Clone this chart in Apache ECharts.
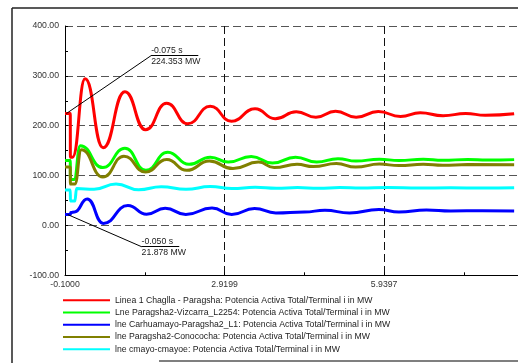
<!DOCTYPE html>
<html>
<head>
<meta charset="utf-8">
<script src="https://cdn.jsdelivr.net/npm/echarts@6/dist/echarts.min.js"></script>
<style>
html,body{margin:0;padding:0;overflow:hidden;background:#fff;width:518px;height:363px;}
#chart{width:560px;height:363px;}
</style>
</head>
<body>
<div id="chart"></div>
<script>
// ---- data (time in s, values in MW) ----
const seriesNames = [
  "Linea 1 Chaglla - Paragsha: Potencia Activa Total/Terminal i in MW",
  "Lne Paragsha2-Vizcarra_L2254: Potencia Activa Total/Terminal i in MW",
  "lne Carhuamayo-Paragsha2_L1: Potencia Activa Total/Terminal i in MW",
  "lne Paragsha2-Conococha: Potencia Activa Total/Terminal i in MW",
  "lne cmayo-cmayoe: Potencia Activa Total/Terminal i in MW"
];
const redT = [-0.1, 0.0, 0.002, 0.043, 0.281, 0.621, 1.034, 1.424, 1.823, 2.223, 2.650, 3.050, 3.496, 3.877, 4.277, 4.648, 5.020, 5.410, 5.828, 6.250, 6.622, 7.055, 7.482, 7.854, 8.40];
const redV = [224.35, 224.35, 137, 137, 294, 156, 268, 192, 245, 204, 239, 209, 234, 214, 228, 217, 229, 217, 228.5, 218.5, 226, 220, 224.5, 221, 224];
const greenT = [-0.1, 0.0, 0.002, 0.07, 0.19, 0.616, 1.034, 1.43, 1.846, 2.247, 2.65, 2.99, 3.425, 3.827, 4.262, 4.663, 5.066, 5.406, 5.85, 6.22, 6.68, 7.05, 7.52, 7.89, 8.40];
const greenV = [130, 130, 92, 92, 160, 116, 155, 110.5, 147, 122.5, 137, 127, 138.5, 125, 137, 127, 134, 129, 133, 130, 133, 130.5, 132.5, 131, 132];
const blueT = [-0.1, -0.05, 0.0, 0.01, 0.08, 0.32, 0.625, 1.09, 1.443, 1.796, 2.186, 2.682, 3.054, 3.487, 3.89, 4.43, 4.819, 5.284, 5.84, 6.22, 6.74, 7.2, 7.8, 8.4];
const blueV = [21.9, 21.878, 22, 26, 27, 53, 4, 40, 22.5, 34.5, 22, 35, 22, 34, 25, 27, 30.5, 25, 32, 27, 31, 29, 29.5, 29];
const oliveT = [-0.1, 0.0, 0.002, 0.085, 0.21, 0.616, 1.015, 1.424, 1.827, 2.204, 2.632, 3.078, 3.561, 3.858, 4.291, 4.6, 5.035, 5.40, 5.85, 6.22, 6.68, 7.05, 7.52, 8.40];
const oliveV = [117, 117, 83, 83, 152, 97, 139, 107, 132, 110.5, 129, 114, 127, 116, 122.5, 118, 124, 117, 123, 120, 122.5, 120.5, 122, 121.5];
const cyanT = [-0.1, 0.0, 0.002, 0.085, 0.12, 0.45, 0.866, 1.294, 1.72, 2.19, 2.65, 3.06, 3.5, 3.9, 4.3, 4.7, 5.1, 5.5, 6.0, 6.6, 7.2, 7.8, 8.4];
const cyanV = [71, 71, 49, 49, 74, 72.5, 83, 71.5, 77.5, 72.5, 78, 74, 76.5, 74.5, 76, 74.5, 76, 75, 76, 75, 75.5, 75, 75.5];

// x tick labels: -0.1000, 2.9199, 5.9397, 8.9596
const xStart = -0.1;
const xStep = 3.01987;
const yTicks = [-100, 0, 100, 200, 300, 400];

// annotations
const annot1 = {t: -0.075, v: 224.353, lt: 1.53, lv: 340.6, et: 2.42, s1: "-0.075 s", s2: "224.353 MW"};
const annot2 = {t: -0.050, v: 21.878, lt: 1.35, lv: -42.7, et: 2.06, s1: "-0.050 s", s2: "21.878 MW"};

// ---- build ----
const SH = -xStart; // axis is drawn from 0 = -0.1 s
const pts = (ts, vs) => ts.map((t, i) => [t + SH, vs[i]]);
const colors = ['#ff0000', '#00ff00', '#0000ff', '#808000', '#00ffff'];
const dataSets = [pts(redT, redV), pts(greenT, greenV), pts(blueT, blueV), pts(oliveT, oliveV), pts(cyanT, cyanV)];
const FONT = 'Liberation Sans, Arial, sans-serif';

function annotLines(a) {
  const lblBase = {show: true, color: '#222', fontSize: 8.7, fontFamily: FONT};
  return [
    [{coord: [a.t + SH, a.v], label: {show: false}}, {coord: [a.lt + SH, a.lv]}],
    [{coord: [a.lt + SH, a.lv], label: Object.assign({}, lblBase, {position: 'insideStartTop', formatter: a.s1, distance: [0, 1]})}, {coord: [a.et + SH, a.lv]}],
    [{coord: [a.lt + SH, a.lv], label: Object.assign({}, lblBase, {position: 'insideStartBottom', formatter: a.s2, distance: [0, 1]})}, {coord: [a.et + SH, a.lv]}]
  ];
}

const series = dataSets.map((d, i) => {
  const s = {
    name: seriesNames[i], type: 'line', data: d, showSymbol: false,
    smooth: 0.5, smoothMonotone: 'x',
    lineStyle: {width: 3, color: colors[i]}, itemStyle: {color: colors[i]},
    animation: false
  };
  const a = i === 0 ? annot1 : (i === 2 ? annot2 : null);
  if (a) {
    s.markLine = {
      silent: true, symbol: 'none', animation: false,
      lineStyle: {color: '#000', width: 1, type: 'solid'},
      data: annotLines(a)
    };
  }
  return s;
});

const chart = echarts.init(document.getElementById('chart'), null, {renderer: 'canvas'});
chart.setOption({
  animation: false,
  textStyle: {fontFamily: FONT},
  grid: {left: 65, top: 26, width: 487.5, height: 249.3, containLabel: false},
  xAxis: {
    type: 'value', min: 0, max: 3 * xStep, interval: xStep,
    axisLine: {show: true, onZero: false, lineStyle: {color: '#000', width: 1}},
    axisTick: {show: true, inside: true, length: 3, lineStyle: {color: '#000'}},
    minorTick: {show: true, splitNumber: 2, length: 3, lineStyle: {color: '#000'}},
    axisLabel: {color: '#333', fontSize: 8.7, fontFamily: FONT, margin: 5,
      formatter: v => (v - SH).toFixed(4)},
    splitLine: {show: true, lineStyle: {color: '#111', width: 1, type: [8, 4]}}
  },
  yAxis: {
    type: 'value', min: yTicks[0], max: yTicks[yTicks.length - 1], interval: 100,
    axisLine: {show: true, onZero: false, lineStyle: {color: '#000', width: 1}},
    axisTick: {show: true, inside: true, length: 3, lineStyle: {color: '#000'}},
    minorTick: {show: true, splitNumber: 2, length: 3, lineStyle: {color: '#000'}},
    axisLabel: {color: '#333', fontSize: 8.7, fontFamily: FONT, margin: 6,
      formatter: v => v.toFixed(2)},
    splitLine: {show: true, lineStyle: {color: '#555', width: 1, type: [8, 4]}}
  },
  legend: {
    orient: 'vertical', left: 63, top: 294, padding: 0,
    itemWidth: 47, itemHeight: 2, itemGap: 0, icon: 'rect',
    textStyle: {color: '#222', fontSize: 8.7, fontFamily: FONT, lineHeight: 12.3},
    data: seriesNames.map((n, i) => ({name: n, itemStyle: {color: colors[i]}}))
  },
  graphic: [
    {type: 'line', shape: {x1: 12, y1: 8, x2: 560, y2: 8}, style: {stroke: '#222', lineWidth: 1.5}, silent: true},
    {type: 'line', shape: {x1: 12, y1: 8, x2: 12, y2: 363}, style: {stroke: '#222', lineWidth: 1.5}, silent: true},
    {type: 'line', shape: {x1: 159, y1: 361, x2: 560, y2: 361}, style: {stroke: '#555', lineWidth: 1.5}, silent: true}
  ],
  series: series
});
</script>
</body>
</html>
